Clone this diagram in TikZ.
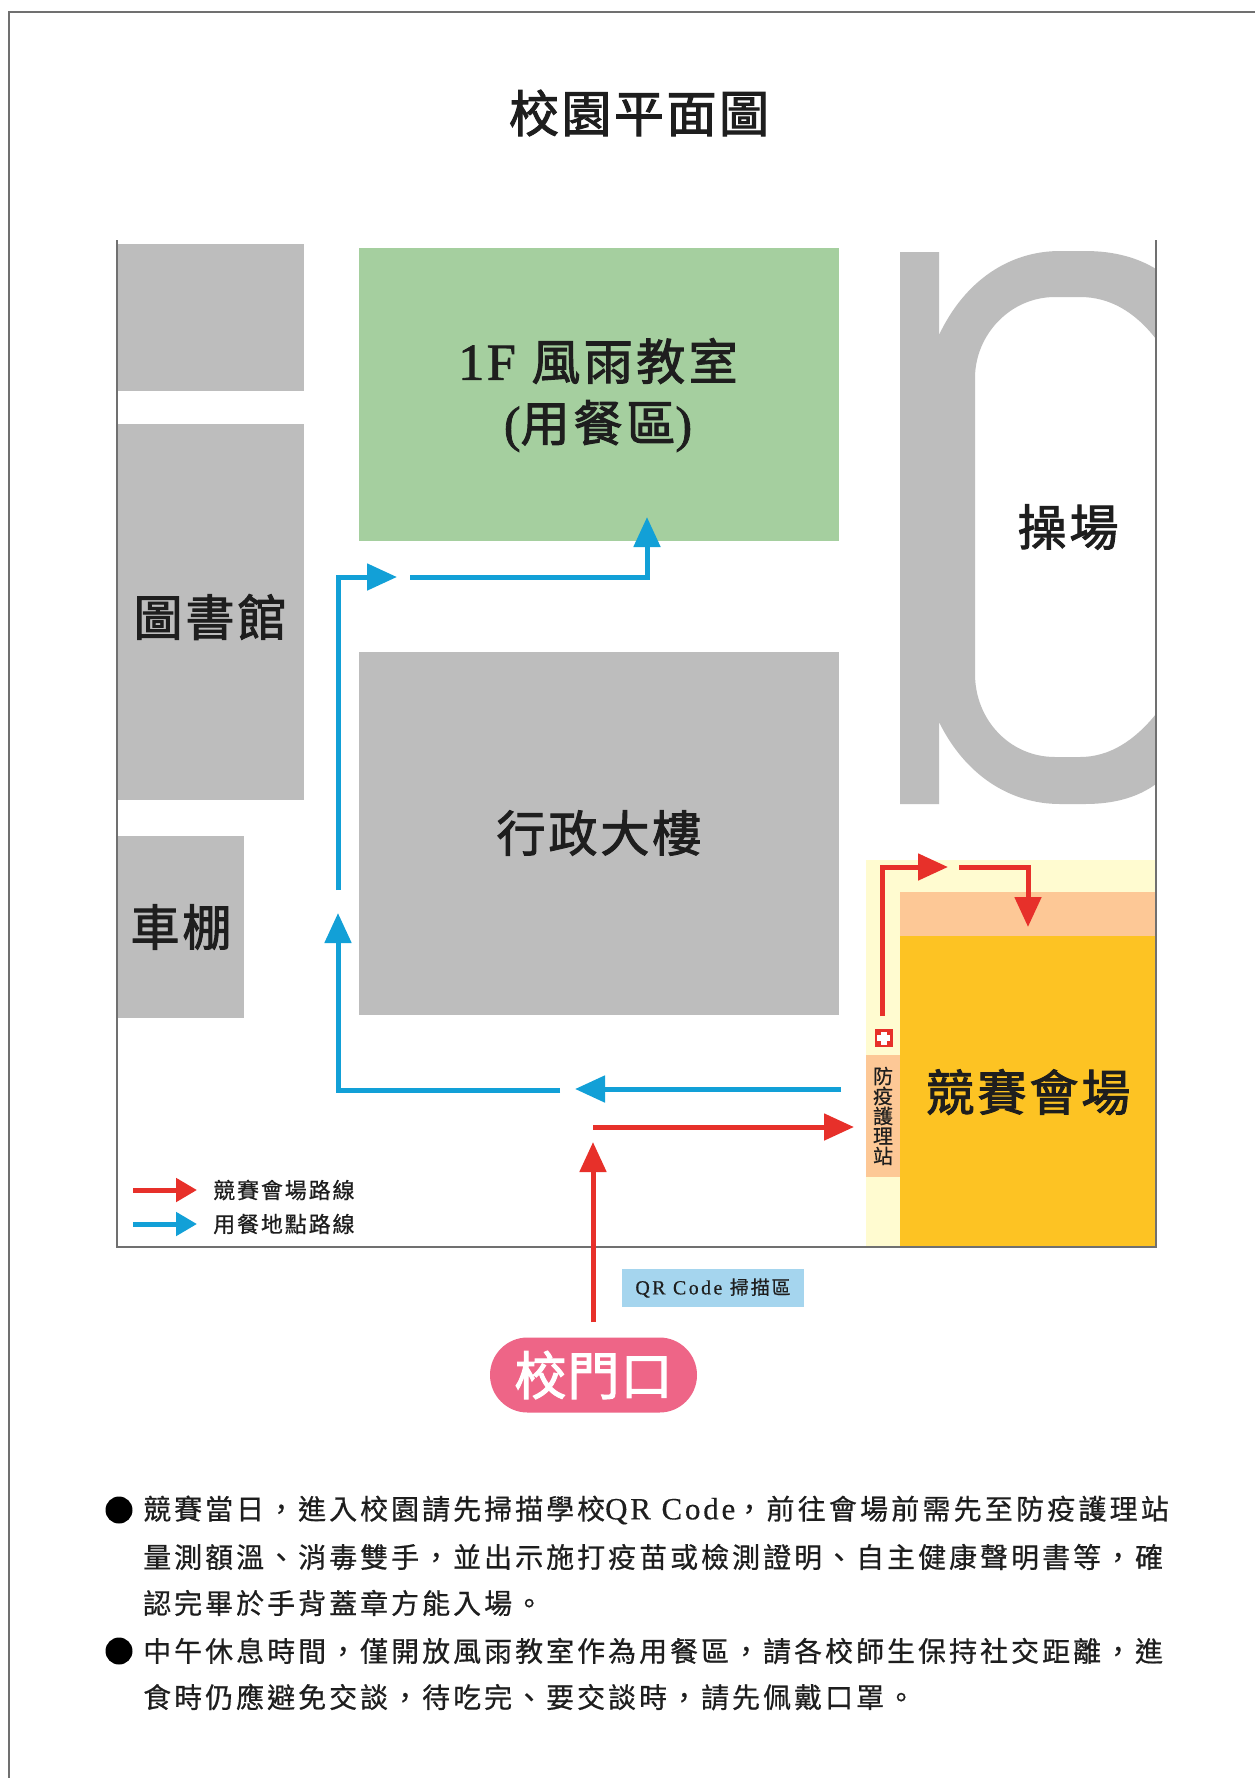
\documentclass[tikz,border=0pt]{standalone}
\usepackage{fontspec}
\usetikzlibrary{arrows.meta,shapes.misc}
\setmainfont{Liberation Serif}
\newcommand\cjkf[2]{\fontspec{Noto Sans CJK TC}[LetterSpace=#2,FakeBold=0.6]\fontsize{#1}{#1}\selectfont}
\newcommand\cjkb[2]{\fontspec{Noto Sans CJK TC}[LetterSpace=#2,FakeBold=2.0]\fontsize{#1}{#1}\selectfont}
\newcommand\latf[2]{\fontspec{Liberation Serif}[LetterSpace=#2,FakeBold=0.4]\fontsize{#1}{#1}\selectfont}
\newcommand\latb[2]{\fontspec{Liberation Serif}[LetterSpace=#2,FakeBold=1.6]\fontsize{#1}{#1}\selectfont}
\definecolor{bld}{HTML}{BDBDBD}
\definecolor{grn}{HTML}{A5CF9F}
\definecolor{gld}{HTML}{FDC323}
\definecolor{cream}{HTML}{FFFBD0}
\definecolor{peach}{HTML}{FDC896}
\definecolor{rd}{HTML}{E7302A}
\definecolor{bl}{HTML}{12A0D7}
\definecolor{pnk}{HTML}{EE6587}
\definecolor{qr}{HTML}{A5D5EE}
\definecolor{frm}{HTML}{707070}
\definecolor{ink}{HTML}{1E1E1E}
\tikzset{
  bigl/.style={inner sep=0pt,text=ink,font=\cjkb{49}{6}},
  bodyl/.style={inner sep=0pt,anchor=west,text=ink,font=\cjkf{28}{10.7}},
  redline/.style={draw=rd,line width=5pt,-{Triangle[width=26pt,length=30pt]}},
  blueline/.style={draw=bl,line width=5pt,-{Triangle[width=26pt,length=30pt]}},
  redleg/.style={draw=rd,line width=5pt,-{Triangle[width=23pt,length=21pt]}},
  blueleg/.style={draw=bl,line width=5pt,-{Triangle[width=23pt,length=21pt]}},
  legl/.style={inner sep=0pt,anchor=west,text=ink,font=\cjkf{22}{8.5}},
  bul/.style={circle,fill=black,inner sep=0pt,minimum size=27pt},
}
\begin{document}
\begin{tikzpicture}[x=1pt,y=-1pt]
\useasboundingbox (0,0) rectangle (1255,1778);
\fill[white] (0,0) rectangle (1255,1778);
% page frame
\draw[frm,line width=2pt] (9,1778) -- (9,12) -- (1255,12);
\node[bigl,font=\cjkb{50}{5}] (title) at (639,113) {校園平面圖};
% buildings
\fill[bld] (118,244) rectangle (304,391);
\fill[bld] (118,424) rectangle (304,800);
\fill[bld] (118,836) rectangle (244,1018);
\fill[grn] (359,248) rectangle (839,541);
\fill[bld] (359,652) rectangle (839,1015);
% track
\fill[bld] (900,252) -- (939,252) -- (939,335)
  .. controls (965,280) and (1010,251) .. (1060,251) -- (1085,251)
  .. controls (1115,251) and (1138,258) .. (1156,269) -- (1156,339)
  .. controls (1135,312) and (1110,297) .. (1080,297) -- (1055,297)
  .. controls (1010,297) and (975,335) .. (975,378) -- (975,674)
  .. controls (975,720) and (1010,757) .. (1055,757) -- (1080,757)
  .. controls (1110,757) and (1135,740) .. (1156,714) -- (1156,784)
  .. controls (1138,797) and (1115,804) .. (1085,804) -- (1060,804)
  .. controls (1010,804) and (965,775) .. (939,722) -- (939,804) -- (900,804) -- cycle;
% venue
\fill[cream] (866,860) rectangle (1156,1247);
\fill[peach] (900,892) rectangle (1156,936);
\fill[gld] (900,936) rectangle (1156,1247);
\fill[peach] (866,1055) rectangle (900,1177);
% map frame
\draw[frm,line width=1.5pt] (117,240) -- (117,1247) -- (1156,1247) -- (1156,240);
% labels
\node[bigl] (wind) at (598,361) {\latb{52}{5}1F \cjkb{49}{7}風雨教室};
\node[bigl] (meal) at (598,426) {\latb{50}{0}(\cjkb{49}{8}用餐區\latb{50}{0})};
\node[bigl] (lib) at (210,617) {圖書館};
\node[bigl] (bike) at (181,927) {車棚};
\node[bigl] (admin) at (599,833) {行政大樓};
\node[bigl] (field) at (1068,527) {操場};
\node[bigl] (venue) at (1028,1092) {競賽會場};
\node[inner sep=0pt,text=ink,align=center,font=\cjkf{20}{0}] (station) at (883,1116)
  {\baselineskip=22pt 防\\疫\\護\\理\\站};
% first-aid mark
\node[fill=rd,inner sep=0pt,minimum size=18pt] (aid) at (883.5,1038) {};
\fill[white] (880.5,1031.5) rectangle (886.5,1044.5);
\fill[white] (877,1035) rectangle (890,1041);
% route coordinates
\coordinate (b1) at (841,1089);
\coordinate (b1e) at (575,1089);
\coordinate (b2) at (560,1090);
\coordinate (b2c) at (338,1090);
\coordinate (b2e) at (338,913);
\coordinate (b3) at (338,890);
\coordinate (b3c) at (338,577);
\coordinate (b3e) at (397,577);
\coordinate (b4) at (410,577);
\coordinate (b4c) at (647,577);
\coordinate (b4e) at (647,517);
\coordinate (r1) at (593,1322);
\coordinate (r1e) at (593,1142);
\coordinate (r2) at (593,1127);
\coordinate (r2e) at (854,1127);
\coordinate (r3) at (882,1016);
\coordinate (r3c) at (882,867);
\coordinate (r3e) at (948,867);
\coordinate (r4) at (959,867);
\coordinate (r4c) at (1028,867);
\coordinate (r4e) at (1028,927);
% routes
\draw[blueline] (b1) -- (b1e);
\draw[blueline] (b2) -- (b2c) -- (b2e);
\draw[blueline] (b3) -- (b3c) -- (b3e);
\draw[blueline] (b4) -- (b4c) -- (b4e);
\draw[redline] (r1) -- (r1e);
\draw[redline] (r2) -- (r2e);
\draw[redline] (r3) -- (r3c) -- (r3e);
\draw[redline] (r4) -- (r4c) -- (r4e);
% legend
\coordinate (lr1) at (133,1190);
\coordinate (lr2) at (197,1190);
\coordinate (lb1) at (133,1224);
\coordinate (lb2) at (197,1224);
\draw[redleg] (lr1) -- (lr2);
\draw[blueleg] (lb1) -- (lb2);
\node[legl] (legr) at (213,1190) {競賽會場路線};
\node[legl] (legb) at (213,1224) {用餐地點路線};
% qr + gate
\node[fill=qr,minimum width=182pt,minimum height=38pt,inner sep=0pt,text=ink] (qrb) at (713,1288)
  {\latf{20}{12}QR Code \cjkf{19}{10}掃描區};
\node[rounded rectangle,fill=pnk,minimum width=207pt,minimum height=75pt,inner sep=0pt,text=white,font=\cjkb{52}{2}] (gate) at (593.5,1375) {校門口};
% notes
\node[bul] (bu1) at (119,1510) {};
\node[bodyl] (l1) at (143,1510) {競賽當日，進入校園請先掃描學校\latf{31}{9}QR Code\cjkf{28}{11.4}，前往會場前需先至防疫護理站};
\node[bodyl] (l2) at (143,1557) {量測額溫、消毒雙手，並出示施打疫苗或檢測證明、自主健康聲明書等，確};
\node[bodyl] (l3) at (143,1603) {認完畢於手背蓋章方能入場。};
\node[bul] (bu2) at (119,1651) {};
\node[bodyl] (l4) at (143,1651) {中午休息時間，僅開放風雨教室作為用餐區，請各校師生保持社交距離，進};
\node[bodyl] (l5) at (143,1697) {食時仍應避免交談，待吃完、要交談時，請先佩戴口罩。};
\end{tikzpicture}
\end{document}
